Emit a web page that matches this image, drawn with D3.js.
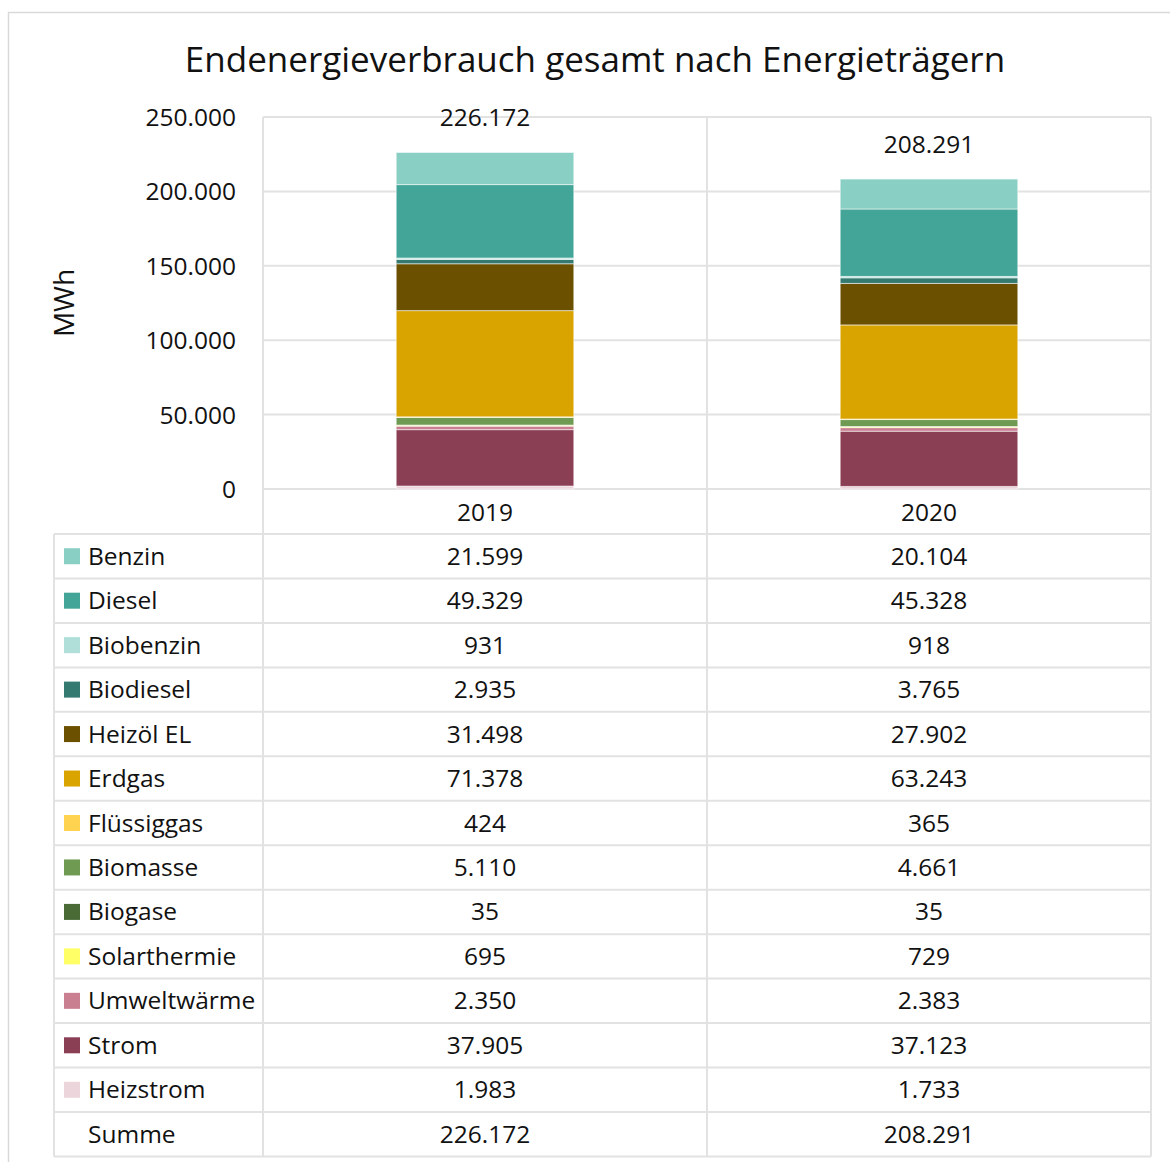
<!DOCTYPE html>
<html><head><meta charset="utf-8">
<script src="https://cdn.jsdelivr.net/npm/d3@7"></script>
<style>
html,body{margin:0;padding:0;background:#fff;}
svg{display:block;font-family:"Open Sans","Noto Sans",sans-serif;}
</style></head>
<body>
<svg id="chart" width="1170" height="1162"></svg>
<script>
const title = "Endenergieverbrauch gesamt nach Energieträgern";
const categories = ["2019", "2020"];
const series = ["Benzin","Diesel","Biobenzin","Biodiesel","Heizöl EL","Erdgas","Flüssiggas","Biomasse","Biogase","Solarthermie","Umweltwärme","Strom","Heizstrom"];
const colors = ["#8ACFC4","#43A597","#B0DFD9","#347A70","#6B5000","#D9A300","#FFD34F","#6F9A52","#4A6B36","#FFFF66","#C97F90","#8A3F55","#EDD5DC"];
const values2019 = [21599,49329,931,2935,31498,71378,424,5110,35,695,2350,37905,1983];
const values2020 = [20104,45328,918,3765,27902,63243,365,4661,35,729,2383,37123,1733];
const totals = [226172, 208291];
const yTicks = [0,50000,100000,150000,200000,250000];
const yLabel = "MWh";
const sumLabel = "Summe";

const fmt = v => d3.format(",")(v).replace(/,/g, ".");

const svg = d3.select("#chart");
const plotL = 263, plotR = 1151, plotT = 117, plotB = 489;
const tableL = 54, tableT = 534, rowH = 44.46;
const gridCol = "#e2e2e2";
const fs = 24.5;

// outer frame
svg.append("path").attr("d","M8.5,1162 L8.5,12.5 L1170,12.5").attr("fill","none").attr("stroke","#d9d9d9").attr("stroke-width",1.5);

// title
svg.append("text").attr("x",595).attr("y",72).attr("text-anchor","middle")
  .attr("font-size",35).attr("fill","#111").text(title);

const x = d3.scaleBand().domain(categories).range([plotL, plotR]).padding(0);
const y = d3.scaleLinear().domain([0,250000]).range([plotB, plotT]);

// gridlines
svg.append("g").selectAll("line").data(yTicks).join("line")
  .attr("x1",plotL).attr("x2",plotR).attr("y1",d=>y(d)).attr("y2",d=>y(d))
  .attr("stroke",gridCol).attr("stroke-width",2);

// y axis labels
const yAxis = d3.axisLeft(y).tickValues(yTicks).tickFormat(fmt).tickSize(0).tickPadding(0);
const ya = svg.append("g").attr("transform",`translate(236,0)`).call(yAxis);
ya.select(".domain").remove();
ya.selectAll("text").attr("font-size",fs).attr("fill","#111").attr("font-family","'Open Sans','Noto Sans',sans-serif").attr("dy","0.35em");

svg.append("text").attr("transform","translate(64,303) rotate(-90)").attr("text-anchor","middle")
  .attr("dy","0.35em").attr("font-size",28).attr("fill","#111").text(yLabel);

// stacked data
const rows = categories.map((c,i)=>{
  const o = {cat:c};
  const vals = i===0?values2019:values2020;
  series.forEach((s,j)=>o[s]=vals[j]);
  return o;
});
const stackKeys = series.slice().reverse();
const stack = d3.stack().keys(stackKeys)(rows);
const barW = x.bandwidth()*0.4;
const colorOf = d3.scaleOrdinal().domain(series).range(colors);

svg.append("g").selectAll("g").data(stack).join("g")
  .attr("fill",d=>colorOf(d.key))
  .selectAll("rect").data(d=>d).join("rect")
  .attr("x",d=>x(d.data.cat)+x.bandwidth()/2-barW/2)
  .attr("width",barW)
  .attr("y",d=>y(d[1]))
  .attr("height",d=>Math.max(0,y(d[0])-y(d[1])))
  .attr("stroke","rgba(255,255,255,0.55)").attr("stroke-width",1);

// total labels
svg.append("g").selectAll("text").data(categories).join("text")
  .attr("x",d=>x(d)+x.bandwidth()/2)
  .attr("y",(d,i)=>y(totals[i])-35)
  .attr("dy","0.35em").attr("text-anchor","middle").attr("font-size",fs).attr("fill","#111")
  .text((d,i)=>fmt(totals[i]));

// category labels
svg.append("g").selectAll("text").data(categories).join("text")
  .attr("x",d=>x(d)+x.bandwidth()/2).attr("y",512).attr("dy","0.35em")
  .attr("text-anchor","middle").attr("font-size",fs).attr("fill","#111").text(d=>d);

// table
const nRows = series.length + 1;
const tableB = tableT + nRows*rowH;
const tg = svg.append("g");
tg.selectAll("line.h").data(d3.range(nRows+1)).join("line").attr("class","h")
  .attr("x1",tableL).attr("x2",plotR)
  .attr("y1",i=>tableT+i*rowH).attr("y2",i=>tableT+i*rowH)
  .attr("stroke",gridCol).attr("stroke-width",2);
const vlines = [[tableL,tableT],[plotL,plotT],[x("2020"),plotT],[plotR,plotT]];
tg.selectAll("line.v").data(vlines).join("line").attr("class","v")
  .attr("x1",d=>d[0]).attr("x2",d=>d[0]).attr("y1",d=>d[1]).attr("y2",tableB)
  .attr("stroke",gridCol).attr("stroke-width",2);

const labels = series.concat([sumLabel]);
labels.forEach((s,i)=>{
  const cy = tableT + i*rowH + rowH/2;
  if (i < series.length) {
    tg.append("rect").attr("x",64).attr("y",cy-8).attr("width",16).attr("height",16).attr("fill",colors[i]);
  }
  tg.append("text").attr("x",88).attr("y",cy).attr("dy","0.35em").attr("font-size",fs).attr("fill","#111").text(s);
  categories.forEach((c,k)=>{
    const v = i < series.length ? (k===0?values2019:values2020)[i] : totals[k];
    tg.append("text").attr("x",x(c)+x.bandwidth()/2).attr("y",cy).attr("dy","0.35em")
      .attr("text-anchor","middle").attr("font-size",fs).attr("fill","#111").text(fmt(v));
  });
});
</script>
</body></html>
